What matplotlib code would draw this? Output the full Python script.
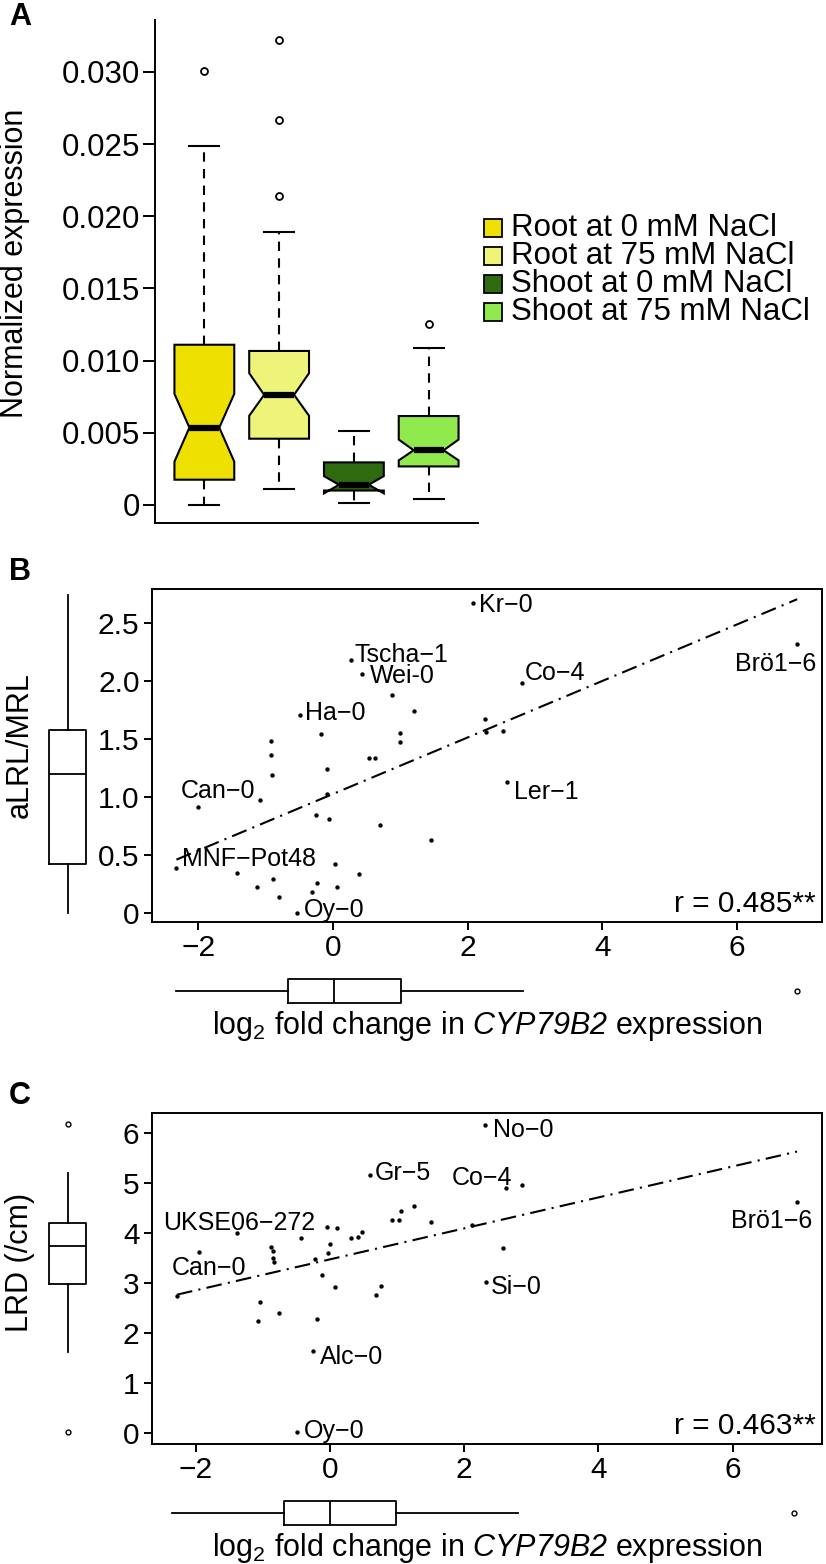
import numpy as np
import matplotlib
matplotlib.use('Agg')
import matplotlib.pyplot as plt
from matplotlib.patches import Rectangle

plt.rcParams['font.family'] = ['Liberation Sans', 'DejaVu Sans']
plt.rcParams['mathtext.fontset'] = 'custom'
plt.rcParams['mathtext.rm'] = 'Liberation Sans'
plt.rcParams['mathtext.it'] = 'Liberation Sans:italic'
plt.rcParams['mathtext.sf'] = 'Liberation Sans:italic'   # italic digits for the gene name
plt.rcParams['axes.linewidth'] = 1.4

W, H = 826, 1564

# ---- panel A: notched boxes
groups = ['Root at 0 mM NaCl', 'Root at 75 mM NaCl', 'Shoot at 0 mM NaCl', 'Shoot at 75 mM NaCl']
box_colors = ['#EEE000', '#EEF47A', '#2E6B10', '#90EA4E']
a_whislo = [0.0, 0.00108, 0.00015, 0.00042]
a_q1 = [0.00175, 0.00459, 0.0010, 0.00267]
a_med = [0.00536, 0.00763, 0.0014, 0.00379]
a_q3 = [0.0111, 0.01067, 0.00295, 0.00616]
a_whishi = [0.0249, 0.0189, 0.00511, 0.01087]
a_cilo = [0.0030, 0.00618, 0.0008, 0.00309]
a_cihi = [0.0077, 0.00913, 0.0020, 0.00453]
a_fliers = [[0.0301], [0.0214, 0.0267, 0.0322], [], [0.01257]]
a_yticks = [0, 0.005, 0.010, 0.015, 0.020, 0.025, 0.030]
a_yticklabels = ['0', '0.005', '0.010', '0.015', '0.020', '0.025', '0.030']

# ---- panel B: aLRL/MRL vs log2 fold change
b_x = [2.077, 0.260, 0.433, 2.809, 6.892, 0.870, -0.491, 1.204, 2.257, 2.270,
       2.526, -0.177, 0.998, 0.998, -0.921, -0.921, 0.536, 0.626, -0.087, -0.902,
       2.578, -0.093, -2.013, -1.088, -0.254, -0.067, 0.697, 1.448, -2.327, -1.435,
       -0.889, -1.127, -0.806, 0.022, 0.382, -0.241, -0.311, 0.061, -0.536]
b_y = [2.677, 2.180, 2.064, 1.980, 2.320, 1.884, 1.709, 1.738, 1.674, 1.564,
       1.570, 1.541, 1.555, 1.471, 1.483, 1.360, 1.340, 1.340, 1.244, 1.186,
       1.128, 1.026, 0.916, 0.971, 0.843, 0.814, 0.762, 0.625, 0.387, 0.343,
       0.291, 0.221, 0.140, 0.419, 0.334, 0.256, 0.177, 0.227, 0.003]
b_names = {0: 'Kr\u22120', 1: 'Tscha\u22121', 2: 'Wei-0', 3: 'Co\u22124', 4: 'Br\u00f61\u22126',
           6: 'Ha\u22120', 20: 'Ler\u22121', 22: 'Can\u22120', 28: 'MNF\u2212Pot48', 38: 'Oy\u22120'}
b_r = 'r = 0.485**'
b_xbox = dict(whislo=-2.33, q1=-0.67, med=0.02, q3=1.01, whishi=2.82, fliers=[6.89])
b_ybox = dict(whislo=0.0, q1=0.42, med=1.20, q3=1.58, whishi=2.74, fliers=[])
b_yticks = [0, 0.5, 1.0, 1.5, 2.0, 2.5]
b_yticklabels = ['0', '0.5', '1.0', '1.5', '2.0', '2.5']

# ---- panel C: LRD vs log2 fold change
c_x = [2.315, 0.592, 2.630, 2.868, 6.958, 1.254, 1.055, 0.926, 1.023, 1.505,
       2.116, -0.045, 0.109, 0.482, 0.424, 0.315, -1.383, -0.431, -1.955, -0.875,
       -0.855, -0.849, -0.830, -0.006, -0.032, -0.220, 2.585, -0.116, 2.328, 0.077,
       0.759, 0.682, -2.277, -1.048, -0.752, -1.074, -0.186, -0.257, -0.489]
c_y = [6.145, 5.162, 4.892, 4.958, 4.621, 4.529, 4.437, 4.252, 4.252, 4.219,
       4.146, 4.107, 4.087, 4.008, 3.922, 3.889, 3.988, 3.902, 3.619, 3.711,
       3.645, 3.493, 3.408, 3.777, 3.592, 3.470, 3.704, 3.150, 3.012, 2.913,
       2.933, 2.768, 2.735, 2.623, 2.392, 2.234, 2.280, 1.646, 0.030]
c_names = {0: 'No\u22120', 1: 'Gr\u22125', 2: 'Co\u22124', 4: 'Br\u00f61\u22126', 16: 'UKSE06\u2212272',
           18: 'Can\u22120', 28: 'Si\u22120', 37: 'Alc\u22120', 38: 'Oy\u22120'}
c_r = 'r = 0.463**'
c_xbox = dict(whislo=-2.35, q1=-0.68, med=0.0, q3=0.99, whishi=2.80, fliers=[6.91])
c_ybox = dict(whislo=1.63, q1=2.97, med=3.73, q3=4.20, whishi=5.20, fliers=[0.03, 6.17])
c_yticks = [0, 1, 2, 3, 4, 5, 6]
c_yticklabels = ['0', '1', '2', '3', '4', '5', '6']

xticks = [-2, 0, 2, 4, 6]
xlabel = 'log$_2$ fold change in $\\mathsf{CYP79B2}$ expression'

# label placement (pixels: dx right, dy down, alignment)
b_offsets = {0: (6, 0, 'left'), 1: (4, -8, 'left'), 2: (8, 0, 'left'), 3: (2, -13, 'left'),
             4: (19, 18, 'right'), 6: (5, -4, 'left'), 20: (7, 7, 'left'), 22: (20, -18, 'center'),
             28: (6, -12, 'left'), 38: (7, -5, 'left')}
c_offsets = {0: (8, 2, 'left'), 1: (5, -4, 'left'), 2: (6, -13, 'right'), 4: (15, 17, 'right'),
             16: (2, -13, 'center'), 18: (10, 14, 'center'), 28: (5, 2, 'left'), 37: (7, 4, 'left'),
             38: (7, -3, 'left')}


def px_rect(x0, y0, x1, y1):
    return [x0 / W, 1 - y1 / H, (x1 - x0) / W, (y1 - y0) / H]


fig = plt.figure(figsize=(W / 100, H / 100), dpi=100)

# ===== A =====
axA = fig.add_axes(px_rect(155, 20, 478, 523))
stats = []
for i in range(len(groups)):
    stats.append(dict(label=groups[i], whislo=a_whislo[i], q1=a_q1[i], med=a_med[i], q3=a_q3[i],
                      whishi=a_whishi[i], cilo=a_cilo[i], cihi=a_cihi[i], fliers=a_fliers[i]))
bp = axA.bxp(stats, positions=[1, 2, 3, 4], widths=0.8, shownotches=True, patch_artist=True,
             manage_ticks=False,
             boxprops=dict(edgecolor='black', linewidth=1.5),
             medianprops=dict(color='black', linewidth=4.5, solid_capstyle='butt'),
             whiskerprops=dict(color='black', linewidth=1.5, linestyle=(0, (4.5, 3.5))),
             capprops=dict(color='black', linewidth=1.5),
             flierprops=dict(marker='o', markersize=5, markerfacecolor='none',
                             markeredgecolor='black', markeredgewidth=1.3))
for patch, col in zip(bp['boxes'], box_colors):
    patch.set_facecolor(col)
axA.set_xlim(0.34, 4.66)
axA.set_ylim(-0.00125, 0.0336)
axA.spines['top'].set_visible(False)
axA.spines['right'].set_visible(False)
axA.set_xticks([])
axA.set_yticks(a_yticks)
axA.set_yticklabels(a_yticklabels)
axA.tick_params(axis='y', length=9, width=1.4, labelsize=22.5, pad=2)
fig.text(15 / W, 1 - 263 / H, 'Normalized expression', rotation=90, ha='center', va='center', fontsize=22)
fig.text(20 / W, 1 - 17 / H, 'A', fontsize=22, fontweight='bold', ha='center', va='center')

for i, (g, col) in enumerate(zip(groups, box_colors)):
    yc = 228 + 28 * i
    fig.add_artist(Rectangle((484 / W, 1 - (yc + 9) / H), 18 / W, 18 / H, transform=fig.transFigure,
                             facecolor=col, edgecolor='black', linewidth=1.3))
    fig.text(511 / W, 1 - yc / H, g, fontsize=22.5, ha='left', va='center')


def margin_box(rect, st, orientation, lim, width):
    ax = fig.add_axes(rect)
    ax.bxp([dict(st, label='')], positions=[0], widths=width, orientation=orientation,
           showcaps=False, manage_ticks=False,
           boxprops=dict(color='black', linewidth=1.3),
           whiskerprops=dict(color='black', linewidth=1.3, linestyle='-'),
           medianprops=dict(color='black', linewidth=1.3),
           flierprops=dict(marker='o', markersize=3.5, markerfacecolor='none',
                           markeredgecolor='black', markeredgewidth=1.0))
    if orientation == 'vertical':
        ax.set_ylim(lim)
        ax.set_xlim(-1, 1)
    else:
        ax.set_xlim(lim)
        ax.set_ylim(-1, 1)
    ax.axis('off')
    return ax


def scatter_panel(top, bottom, xs, ys, names, offsets, rtext, xlim, ylim, yticks, yticklabels,
                  xbox, ybox, letter, ylabel, ylabel_y):
    ax = fig.add_axes(px_rect(152, top, 822, bottom))
    xs = np.array(xs)
    ys = np.array(ys)
    ax.scatter(xs, ys, s=10, color='black', linewidths=0, zorder=3)
    slope, icpt = np.polyfit(xs, ys, 1)
    xl = np.array([xs.min(), xs.max()])
    ax.plot(xl, slope * xl + icpt, color='black', linewidth=1.5,
            linestyle=(0, (7.5, 3, 1, 3)))
    for i, name in names.items():
        dx, dy, ha = offsets[i]
        ax.annotate(name, (xs[i], ys[i]), xytext=(dx, -dy), textcoords='offset pixels',
                    ha=ha, va='center_baseline', fontsize=18)
    ax.text(0.99, 0.012, rtext, transform=ax.transAxes, ha='right', va='bottom', fontsize=21.5)
    ax.set_xlim(xlim)
    ax.set_ylim(ylim)
    ax.set_xticks(xticks)
    ax.set_yticks(yticks)
    ax.set_yticklabels(yticklabels)
    ax.tick_params(length=6, width=1.4, labelsize=21.5, pad=3)
    margin_box(px_rect(40, top, 95, bottom), ybox, 'vertical', ylim, 1.38)
    margin_box(px_rect(152, bottom + 52, 822, bottom + 86), xbox, 'horizontal', xlim, 1.41)
    fig.text(487 / W, 1 - (bottom + 104) / H, xlabel, ha='center', va='center', fontsize=22)
    fig.text(20 / W, 1 - (top - 17) / H, letter, fontsize=22, fontweight='bold', ha='center', va='center')
    fig.text(20 / W, 1 - ylabel_y / H, ylabel, rotation=90, ha='center', va='center', fontsize=22)
    return ax


scatter_panel(589, 922, b_x, b_y, b_names, b_offsets, b_r, (-2.69, 7.26), (-0.078, 2.794),
              b_yticks, b_yticklabels, b_xbox, b_ybox, 'B', 'aLRL/MRL', 745)
scatter_panel(1113, 1444, c_x, c_y, c_names, c_offsets, c_r, (-2.65, 7.33), (-0.215, 6.39),
              c_yticks, c_yticklabels, c_xbox, c_ybox, 'C', 'LRD (/cm)', 1262)

fig.savefig('out.png', dpi=100)
